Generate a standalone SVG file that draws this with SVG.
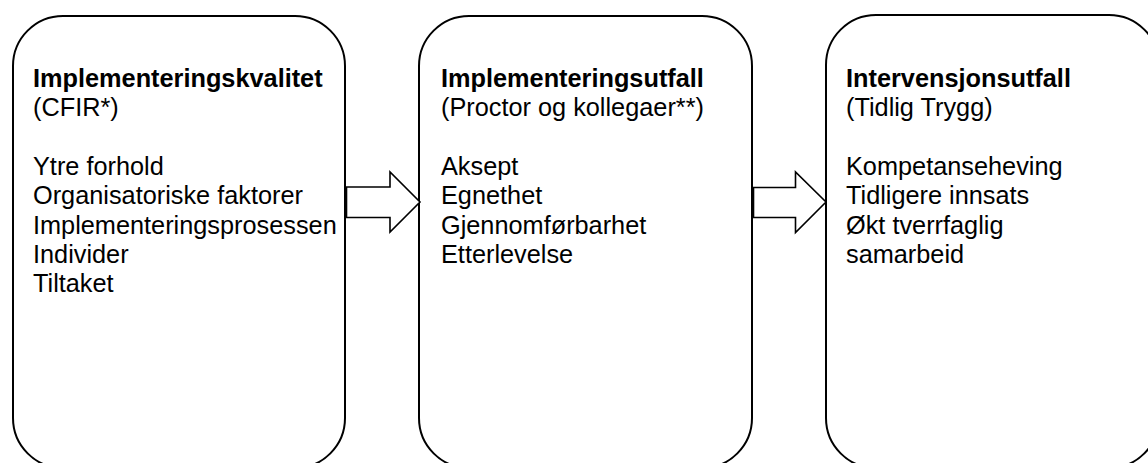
<svg xmlns="http://www.w3.org/2000/svg" width="1148" height="463" viewBox="0 0 1148 463">
<style>
.box{fill:#fff;stroke:#000;stroke-width:2}
.arr{fill:#fff;stroke:#000;stroke-width:1.6;stroke-linejoin:miter}
text{font-family:"Liberation Sans",Arial,sans-serif;font-size:25.3px;fill:#000}
.b{font-weight:bold}
</style>
<rect width="1148" height="463" fill="#fff"/>
<g id="node-kvalitet">
<rect class="box" x="13" y="16" width="332" height="452" rx="50" ry="50"/>
<text x="33" y="87"><tspan class="b" x="33">Implementeringskvalitet</tspan><tspan x="33" dy="29.3">(CFIR*)</tspan><tspan x="33" dy="58.6">Ytre forhold</tspan><tspan x="33" dy="29.3">Organisatoriske faktorer</tspan><tspan x="33" dy="29.3">Implementeringsprosessen</tspan><tspan x="33" dy="29.3">Individer</tspan><tspan x="33" dy="29.3">Tiltaket</tspan></text>
</g>
<g id="node-impl-utfall">
<rect class="box" x="419" y="16" width="333" height="452" rx="50" ry="50"/>
<text x="441" y="87"><tspan class="b" x="441">Implementeringsutfall</tspan><tspan x="441" dy="29.3">(Proctor og kollegaer**)</tspan><tspan x="441" dy="58.6">Aksept</tspan><tspan x="441" dy="29.3">Egnethet</tspan><tspan x="441" dy="29.3">Gjennomførbarhet</tspan><tspan x="441" dy="29.3">Etterlevelse</tspan></text>
</g>
<g id="node-intervensjon">
<rect class="box" x="826" y="15" width="333" height="453" rx="50" ry="50"/>
<text x="846" y="87"><tspan class="b" x="846">Intervensjonsutfall</tspan><tspan x="846" dy="29.3">(Tidlig Trygg)</tspan><tspan x="846" dy="58.6">Kompetanseheving</tspan><tspan x="846" dy="29.3">Tidligere innsats</tspan><tspan x="846" dy="29.3">Økt tverrfaglig</tspan><tspan x="846" dy="29.3">samarbeid</tspan></text>
</g>
<g id="connectors">
<polygon class="arr" points="346.5,187 390,187 390,172 420,202 390,232 390,217.5 346.5,217.5"/>
<polygon class="arr" points="753.5,187.5 795.5,187.5 795.5,172 826,202 795.5,232.5 795.5,217.5 753.5,217.5"/>
</g>
</svg>
